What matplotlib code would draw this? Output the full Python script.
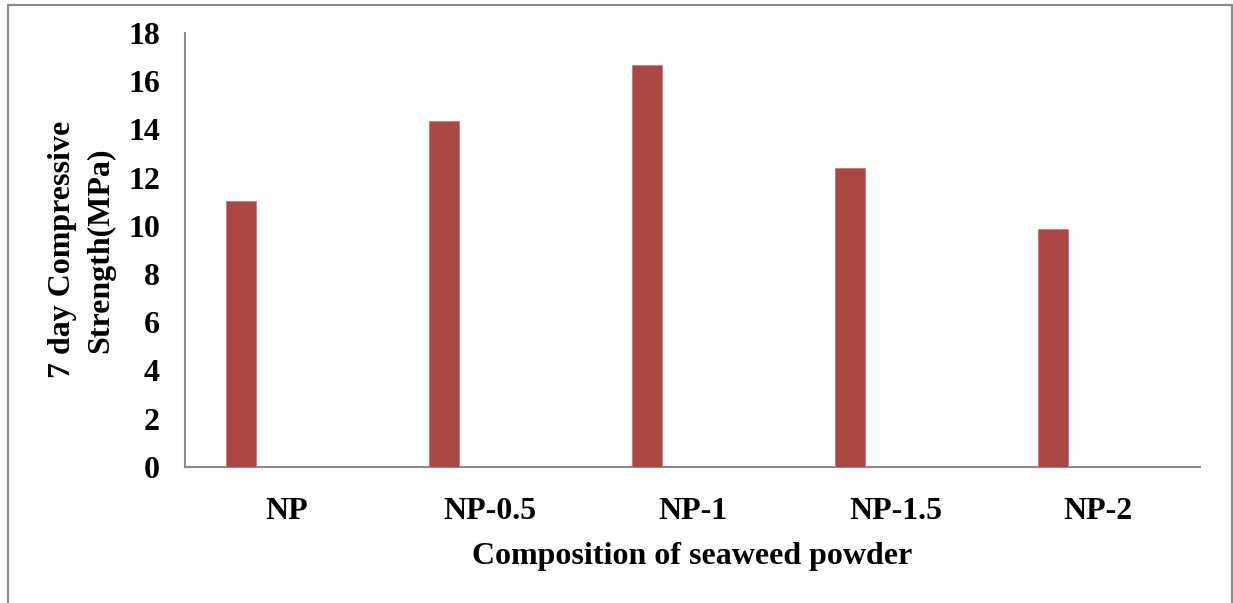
import matplotlib.pyplot as plt
from matplotlib.patches import Rectangle
import numpy as np

# 7日圧縮強度 (MPa)
categories = ['NP', 'NP-0.5', 'NP-1', 'NP-1.5', 'NP-2']
strength = [11.04, 14.35, 16.68, 12.40, 9.87]
yticks = [0, 2, 4, 6, 8, 10, 12, 14, 16, 18]

plt.rcParams['font.family'] = ['Liberation Serif', 'DejaVu Serif']
plt.rcParams['font.weight'] = 'bold'

fig = plt.figure(figsize=(12.33, 6.03), dpi=100)
ax = fig.add_axes([185/1233, 136.3/603, 1015/1233, 433.7/603])

x = np.arange(len(categories))
# Excelの集合縦棒っぽく左にずらす
ax.bar(x - 0.222, strength, width=0.148, color='#AA4643',
       edgecolor='#C47A78', linewidth=0.6, zorder=3)

ax.set_xlim(-0.5, len(categories) - 0.5)
ax.set_ylim(0, 18)
ax.set_yticks(yticks)
ax.set_xticks(x)
ax.set_xticklabels(categories, fontsize=23, fontweight='bold')
ax.set_yticklabels([str(t) for t in yticks], fontsize=23, fontweight='bold')
ax.tick_params(length=0)
ax.tick_params(axis='x', pad=22)
ax.tick_params(axis='y', pad=18)

for s in ['top', 'right']:
    ax.spines[s].set_visible(False)
for s in ['left', 'bottom']:
    ax.spines[s].set_color('#8C8C8C')
    ax.spines[s].set_linewidth(1.5)

ax.set_xlabel('Composition of seaweed powder', fontsize=23,
              fontweight='bold', labelpad=11)
ax.set_ylabel('7 day Compressive\nStrength(MPa)', fontsize=23,
              fontweight='bold', labelpad=9, linespacing=1.42)

# 外枠
fig.patches.append(Rectangle((8/1233, -0.1), 1224/1233, 1.1 - 5/603,
                             transform=fig.transFigure, fill=False,
                             edgecolor='#8C8C8C', linewidth=1.5))

fig.savefig('out.png', dpi=100)
